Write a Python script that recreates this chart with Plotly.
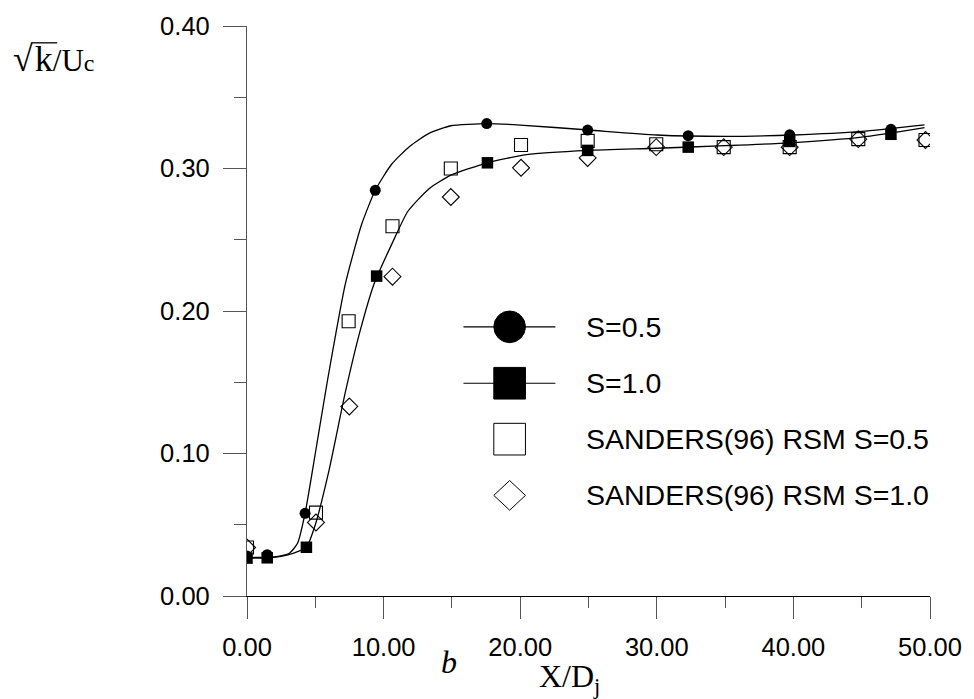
import plotly.graph_objects as go

# ---------------- data ----------------
s05_x = [0.0, 1.48, 4.25, 9.39, 17.55, 24.94, 32.3, 39.73, 47.14]
s05_y = [0.028, 0.029, 0.058, 0.2847, 0.3315, 0.327, 0.323, 0.3236, 0.3275]

s10_x = [0.0, 1.48, 4.35, 9.49, 17.6, 24.94, 32.3, 39.73, 47.14]
s10_y = [0.0266, 0.0268, 0.0342, 0.2245, 0.304, 0.3127, 0.315, 0.319, 0.324]

san05_x = [0.0, 5.05, 7.44, 10.65, 14.92, 20.06, 24.94, 29.96, 34.9, 39.73, 44.75, 49.67]
san05_y = [0.034, 0.0585, 0.1928, 0.2595, 0.300, 0.3165, 0.3194, 0.317, 0.315, 0.315, 0.3206, 0.320]

san10_x = [0.0, 5.05, 7.49, 10.65, 14.92, 20.06, 24.94, 29.96, 34.9, 39.73, 44.75, 49.67]
san10_y = [0.034, 0.0516, 0.133, 0.2241, 0.280, 0.3005, 0.3074, 0.315, 0.315, 0.315, 0.3206, 0.320]

# fitted curves as drawn in the reference
curve05_x = [0.0, 2.0, 3.1, 3.7, 4.25, 5.0, 5.87, 7.2, 8.4, 9.39, 10.57, 11.9,
             13.35, 14.92, 17.55, 20.0, 25.0, 30.0, 35.0, 40.0, 45.0, 49.6]
curve05_y = [0.027, 0.0275, 0.030, 0.037, 0.058, 0.10, 0.15, 0.219, 0.261, 0.2847, 0.3028, 0.3155,
             0.3248, 0.330, 0.3315, 0.3305, 0.327, 0.3235, 0.3225, 0.3235, 0.326, 0.3306]

curve10_x = [0.0, 1.48, 2.85, 3.94, 4.35, 5.0, 6.0, 7.2, 8.28, 9.3, 10.65, 11.78,
             13.35, 14.92, 17.6, 20.47, 25.0, 30.0, 35.0, 39.73, 45.0, 49.6]
curve10_y = [0.0266, 0.0268, 0.0285, 0.032, 0.0342, 0.050, 0.088, 0.143, 0.186, 0.219, 0.248, 0.270,
             0.286, 0.2953, 0.304, 0.3097, 0.3127, 0.3142, 0.316, 0.318, 0.322, 0.3287]

legend_labels = ["S=0.5", "S=1.0", "SANDERS(96) RSM S=0.5", "SANDERS(96) RSM S=1.0"]

x_tickvals = [0, 10, 20, 30, 40, 50]
x_ticktext = ["0.00", "10.00", "20.00", "30.00", "40.00", "50.00"]
y_tickvals = [0.0, 0.1, 0.2, 0.3, 0.4]
y_ticktext = ["0.00", "0.10", "0.20", "0.30", "0.40"]

# ---------------- layout geometry (pixels) ----------------
L, T, W, H = 247, 20, 691, 576
FIG_W, FIG_H = 974, 699


def px(X):
    return (X - L) / W


def py(Y):
    return (T + H - Y) / H


SANS = "Arial, Liberation Sans, sans-serif"
SERIF = "Times New Roman, Liberation Serif, serif"

fig = go.Figure()

line_style = dict(color="black", width=1.3, shape="spline", smoothing=0.55)
fig.add_trace(go.Scatter(x=curve05_x, y=curve05_y, mode="lines", line=line_style,
                         showlegend=False, hoverinfo="skip"))
fig.add_trace(go.Scatter(x=curve10_x, y=curve10_y, mode="lines", line=line_style,
                         showlegend=False, hoverinfo="skip"))

fig.add_trace(go.Scatter(x=s05_x, y=s05_y, mode="markers", name=legend_labels[0],
                         marker=dict(symbol="circle", size=11, color="black"),
                         showlegend=False))
fig.add_trace(go.Scatter(x=s10_x, y=s10_y, mode="markers", name=legend_labels[1],
                         marker=dict(symbol="square", size=11.5, color="black"),
                         showlegend=False))
fig.add_trace(go.Scatter(x=san05_x, y=san05_y, mode="markers", name=legend_labels[2],
                         marker=dict(symbol="square-open", size=13, color="black",
                                     line=dict(width=1.1, color="black")),
                         showlegend=False))
fig.add_trace(go.Scatter(x=san10_x, y=san10_y, mode="markers", name=legend_labels[3],
                         marker=dict(symbol="diamond-open", size=13, color="black",
                                     line=dict(width=1.1, color="black")),
                         showlegend=False))

shapes = []
annotations = []

# ---------------- manual legend ----------------
rows_y = [324, 381, 437.5, 494.3]
cx = 512.7
for i, ry in enumerate(rows_y):
    if i < 2:
        shapes.append(dict(type="line", xref="paper", yref="paper",
                           x0=px(466), x1=px(559), y0=py(ry), y1=py(ry),
                           line=dict(color="black", width=1.2)))
    if i == 0:
        shapes.append(dict(type="circle", xref="paper", yref="paper",
                           x0=px(cx - 16), x1=px(cx + 16), y0=py(ry + 16), y1=py(ry - 16),
                           fillcolor="black", line=dict(color="black", width=1)))
    elif i == 1:
        shapes.append(dict(type="rect", xref="paper", yref="paper",
                           x0=px(cx - 16), x1=px(cx + 16), y0=py(ry + 16), y1=py(ry - 16),
                           fillcolor="black", line=dict(color="black", width=1)))
    elif i == 2:
        shapes.append(dict(type="rect", xref="paper", yref="paper",
                           x0=px(cx - 16), x1=px(cx + 16), y0=py(ry + 16), y1=py(ry - 16),
                           fillcolor="white", line=dict(color="black", width=1)))
    else:
        path = "M {:.5f} {:.5f} L {:.5f} {:.5f} L {:.5f} {:.5f} L {:.5f} {:.5f} Z".format(
            px(cx - 16), py(ry), px(cx), py(ry - 15), px(cx + 16), py(ry), px(cx), py(ry + 15))
        shapes.append(dict(type="path", xref="paper", yref="paper", path=path,
                           fillcolor="white", line=dict(color="black", width=1)))
    annotations.append(dict(xref="paper", yref="paper", x=px(588), y=py(ry),
                            xanchor="left", yanchor="middle", showarrow=False,
                            text=legend_labels[i],
                            font=dict(family=SANS, size=28.5, color="black")))

# ---------------- axis titles ----------------
annotations.append(dict(
    xref="paper", yref="paper", x=px(8), y=py(53),
    xanchor="left", yanchor="middle", showarrow=False,
    text="√<span style='font-size:8px'> </span>k<span style='font-size:31px'>/U</span>"
         "<span style='font-size:24px'>c</span>",
    font=dict(family=SERIF, size=36, color="black")))
# vinculum of the square root
shapes.append(dict(type="line", xref="paper", yref="paper",
                   x0=px(29), x1=px(55), y0=py(37), y1=py(37),
                   line=dict(color="black", width=1.3)))

annotations.append(dict(xref="paper", yref="paper", x=px(540), y=py(679),
                        xanchor="left", yanchor="middle", showarrow=False,
                        text="X/D<sub>j</sub>", font=dict(family=SERIF, size=32, color="black")))
annotations.append(dict(xref="paper", yref="paper", x=px(451), y=py(663),
                        xanchor="center", yanchor="middle", showarrow=False,
                        text="<i>b</i>", font=dict(family=SERIF, size=32, color="black")))

fig.update_layout(
    width=FIG_W, height=FIG_H,
    margin=dict(l=L, r=FIG_W - L - W, t=T, b=FIG_H - T - H, pad=0),
    paper_bgcolor="white", plot_bgcolor="white",
    showlegend=False,
    shapes=shapes, annotations=annotations,
    xaxis=dict(range=[0, 50], tickvals=x_tickvals, ticktext=x_ticktext,
               showgrid=False, zeroline=False, showline=True, linecolor="black", linewidth=1.3,
               ticks="outside", ticklen=22, tickwidth=1.3, tickcolor="#555",
               ticklabelstandoff=6,
               minor=dict(dtick=5, tick0=0, ticks="outside", ticklen=11, tickwidth=1.3,
                          tickcolor="#555", showgrid=False),
               tickfont=dict(family=SANS, size=25.5, color="black")),
    yaxis=dict(range=[0, 0.4], tickvals=y_tickvals, ticktext=y_ticktext,
               showgrid=False, zeroline=False, showline=True, linecolor="#555", linewidth=1.3,
               ticks="outside", ticklen=23, tickwidth=1.3, tickcolor="#555",
               ticklabelstandoff=8,
               minor=dict(dtick=0.05, tick0=0, ticks="outside", ticklen=12, tickwidth=1.3,
                          tickcolor="#555", showgrid=False),
               tickfont=dict(family=SANS, size=25.5, color="black")),
)

fig.write_html("out.html")
